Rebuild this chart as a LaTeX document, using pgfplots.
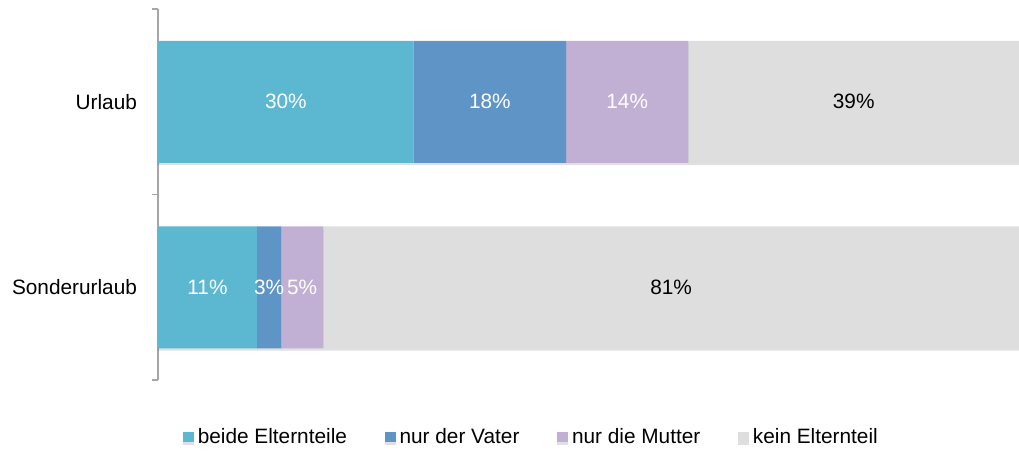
\documentclass[border=0pt]{standalone}
\usepackage{fontspec}
\setmainfont{Liberation Sans}
\usepackage{pgfplots}
\pgfplotsset{compat=1.18}
\usetikzlibrary{shadows}
\definecolor{c1}{RGB}{91,184,208}
\definecolor{c2}{RGB}{95,148,198}
\definecolor{c3}{RGB}{194,176,212}
\definecolor{c4}{RGB}{222,222,222}
\definecolor{axgray}{RGB}{166,166,166}
\begin{document}
\begin{tikzpicture}
\begin{axis}[
  scale only axis,
  width=430.5pt, height=185.5pt,
  xbar stacked, bar width=61pt,
  xmin=0, xmax=100, ymin=-0.5, ymax=1.5,
  axis x line=none,
  axis y line=left,
  y axis line style={-, draw=axgray, line width=0.8pt},
  ytick={0,1}, yticklabels={Sonderurlaub, Urlaub},
  major tick length=0pt,
  minor ytick={-0.5,0.5,1.5},
  minor tick length=3pt,
  tick align=outside,
  minor tick style={draw=axgray, line width=0.8pt},
  yticklabel style={font=\fontsize{10.4}{12}\selectfont, xshift=-7pt},
  point meta=explicit symbolic,
  nodes near coords,
  every node near coord/.append style={font=\fontsize{10.4}{12}\selectfont, anchor=center},
  legend columns=4,
  legend style={draw=none, at={(0.435,-0.156)}, anchor=center, font=\fontsize{10.4}{12}\selectfont,
    /tikz/every even column/.append style={column sep=17pt}},
  legend image code/.code={\fill[#1] (0pt,-2.2pt) rectangle (5.3pt,3.1pt);},
  every axis plot/.append style={drop shadow={shadow xshift=0pt, shadow yshift=-1.2pt, fill=black, opacity=0.12}},
]
\addplot[fill=c1, draw=none, every node near coord/.append style={text=white}] coordinates {(29.7,1) [30\%] (11.5,0) [11\%]};
\addplot[fill=c2, draw=none, every node near coord/.append style={text=white}] coordinates {(17.7,1) [18\%] (2.8,0) [3\%]};
\addplot[fill=c3, draw=none, every node near coord/.append style={text=white}] coordinates {(14.2,1) [14\%] (4.9,0) [5\%]};
\addplot[fill=c4, draw=none, every node near coord/.append style={text=black}] coordinates {(38.4,1) [39\%] (80.8,0) [81\%]};
\legend{beide Elternteile, nur der Vater, nur die Mutter, kein Elternteil}
\end{axis}
\pgfresetboundingbox
\path ([xshift=-79pt,yshift=-35.5pt]current axis.south west) rectangle ([yshift=4.5pt]current axis.north east);
\end{tikzpicture}
\end{document}
